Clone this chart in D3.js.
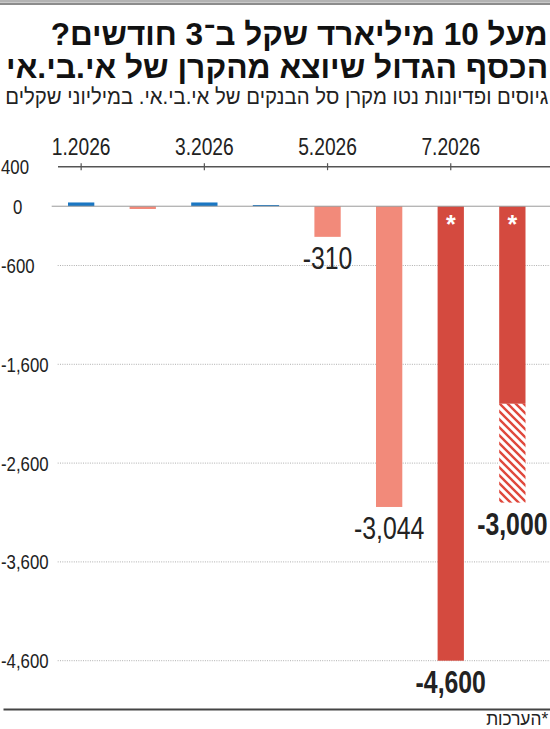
<!DOCTYPE html>
<html><head><meta charset="utf-8">
<script src="https://cdn.jsdelivr.net/npm/d3@7"></script>
<style>
body{margin:0;background:#fff}
#wrap{position:relative;width:550px;height:729px;overflow:hidden}
svg{display:block;position:absolute;left:0;top:0}
text{font-family:"Liberation Sans",Arial,sans-serif}
.htxt{position:absolute;right:2px;top:0;white-space:nowrap;direction:rtl;
  font-family:"Liberation Sans",Arial,sans-serif;line-height:1;transform-origin:100% 50%}
.bl{display:inline-block;width:0;height:0;vertical-align:baseline}
</style>
</head><body>
<div id="wrap"><svg id="c" width="550" height="729"></svg></div>
<script>
// ---- data ----
const months = ["1.2026","2.2026","3.2026","4.2026","5.2026","6.2026","7.2026","8.2026"];
const values = [38, -28, 38, 12, -310, -3044, -4600, -3000];      // total per month
const solidPart = [38, -28, 38, 12, -310, -3044, -4600, -2000];   // solid (reported) portion
const isEstimate = [false, false, false, false, false, false, true, true];
const valueLabels = ["", "", "", "", "-310", "-3,044", "-4,600", "-3,000"];
const xTickLabels = ["1.2026", "3.2026", "5.2026", "7.2026"];
const yTicks = [400, 0, -600, -1600, -2600, -3600, -4600];
const titleLines = ["מעל 10 מיליארד שקל ב־3 חודשים?", "הכסף הגדול שיוצא מהקרן של אי.בי.אי"];
const subtitle = "גיוסים ופדיונות נטו מקרן סל הבנקים של אי.בי.אי. במיליוני שקלים";
const footnote = "*הערכות";

// ---- setup ----
const wrap = d3.select("#wrap");
const svg = d3.select("#c");
const W = 550;
const y = d3.scaleLinear().domain([400, -4600]).range([166.7, 660.7]);
const x = d3.scaleBand().domain(months).range([68, 525.5]).paddingInner(0.573).paddingOuter(0);
const fmt = v => d3.format(",")(v).replace("\u2212", "-");
const K = 0.8; // horizontal condensing of numeric text

const colPos = "#1a77c3", colNeg = "#f28a7a", colEst = "#d44a3f", colHatch = "#e0483c";

// hatch pattern
const defs = svg.append("defs");
const pat = defs.append("pattern").attr("id", "hatch").attr("patternUnits", "userSpaceOnUse")
  .attr("width", 8).attr("height", 8);
pat.append("rect").attr("width", 8).attr("height", 8).attr("fill", "#fff");
pat.append("path").attr("d", "M-1,-1 L9,9 M-1,7 L1,9 M7,-1 L9,1")
  .attr("stroke", colHatch).attr("stroke-width", 2.4);

// squeeze svg text around its x anchor
function squeeze(sel, k) {
  sel.each(function () {
    const ax = +this.getAttribute("x") || 0;
    this.setAttribute("transform", `translate(${ax},0) scale(${k},1) translate(${-ax},0)`);
  });
}
// right-aligned HTML rtl text: baseline at yb, spanning [left, 548]
function htmlLine(str, yb, size, weight, left, color) {
  const d = wrap.append("div").attr("class", "htxt")
    .style("font-size", size + "px").style("font-weight", weight).style("color", color);
  const t = d.append("span").text(str);
  const b = d.append("span").attr("class", "bl");
  const w0 = wrap.node().getBoundingClientRect();
  const base = b.node().getBoundingClientRect().top - w0.top;
  d.style("top", (yb - base) + "px");
  const tw = t.node().getBoundingClientRect().width;
  d.style("transform", `scaleX(${(548 - left) / tw})`);
  return d;
}

// top rules
svg.append("rect").attr("x", 0).attr("y", 0).attr("width", W).attr("height", 2.7).attr("fill", "#b3b3b3");
svg.append("line").attr("x1", 0).attr("x2", W).attr("y1", 4).attr("y2", 4).attr("stroke", "#666").attr("stroke-width", 1.3);

// titles
htmlLine(titleLines[0], 45, 31, 700, 51, "#111");
htmlLine(titleLines[1], 77.5, 31, 700, 6, "#111");
htmlLine(subtitle, 104, 22, 400, 5, "#222");

// gridlines (dotted) for negative ticks
svg.append("g").selectAll("line").data(yTicks.filter(v => v < 0)).join("line")
  .attr("x1", 57.7).attr("x2", W).attr("y1", d => y(d)).attr("y2", d => y(d))
  .attr("stroke", "#9a9a9a").attr("stroke-width", 0.8).attr("stroke-dasharray", "1,1.3");

// y labels
svg.append("g").selectAll("text").data(yTicks).join("text")
  .attr("x", d => d === 0 ? 13 : 1).attr("y", d => y(d) + 7.5)
  .attr("font-size", 21).attr("fill", "#222")
  .text(d => fmt(d))
  .call(squeeze, K);

// bars: solid portion
const bars = svg.append("g");
bars.selectAll("rect.solid").data(months).join("rect").attr("class", "solid")
  .attr("x", d => x(d)).attr("width", x.bandwidth())
  .attr("y", (d, i) => Math.min(y(0), y(solidPart[i])))
  .attr("height", (d, i) => Math.abs(y(solidPart[i]) - y(0)))
  .attr("fill", (d, i) => isEstimate[i] ? colEst : (solidPart[i] >= 0 ? colPos : colNeg));
// hatched remainder (estimate beyond reported part)
bars.selectAll("rect.hatch").data(months.filter((d, i) => values[i] !== solidPart[i])).join("rect")
  .attr("class", "hatch")
  .attr("x", d => x(d)).attr("width", x.bandwidth())
  .attr("y", d => y(solidPart[months.indexOf(d)]))
  .attr("height", d => { const i = months.indexOf(d); return y(values[i]) - y(solidPart[i]); })
  .attr("fill", "url(#hatch)");

// zero line
svg.append("line").attr("x1", 51.7).attr("x2", W).attr("y1", y(0)).attr("y2", y(0))
  .attr("stroke", "#9a9a9a").attr("stroke-width", 1);

// asterisks
svg.append("g").selectAll("text").data(months.filter((d, i) => isEstimate[i])).join("text")
  .attr("x", d => x(d) + x.bandwidth() / 2).attr("y", y(0) + 27)
  .attr("text-anchor", "middle").attr("font-size", 25).attr("font-weight", 700)
  .attr("fill", "#fff").text("*");

// value labels
svg.append("g").selectAll("text").data(months).join("text")
  .attr("x", d => x(d) + x.bandwidth() / 2)
  .attr("y", (d, i) => y(values[i]) + 32)
  .attr("text-anchor", "middle").attr("font-size", 31)
  .attr("font-weight", (d, i) => isEstimate[i] ? 700 : 400)
  .attr("fill", "#222")
  .text((d, i) => valueLabels[i])
  .call(squeeze, K);

// top axis
const axisG = svg.append("g").attr("transform", `translate(0,${y(400)})`);
axisG.append("line").attr("x1", 58).attr("x2", W).attr("y1", 0).attr("y2", 0)
  .attr("stroke", "#555").attr("stroke-width", 1.4);
const ax = d3.axisTop(x).tickValues(xTickLabels).tickSize(3.5).tickPadding(8);
const axG = axisG.append("g").call(ax);
axG.select(".domain").remove();
axG.selectAll(".tick line").attr("y1", 3.5).attr("y2", -3.5).attr("stroke", "#555").attr("stroke-width", 1.2);
axG.attr("font-family", null);
axG.selectAll(".tick text").attr("font-size", 24).attr("fill", "#222")
  .attr("y", -11.7).attr("dy", 0).attr("x", 0)
  .call(squeeze, K);

// bottom rule + footnote
svg.append("line").attr("x1", 3.5).attr("x2", W).attr("y1", 709.5).attr("y2", 709.5)
  .attr("stroke", "#444").attr("stroke-width", 2);
htmlLine(footnote, 725, 19, 400, 486, "#222");
</script>
</body></html>
